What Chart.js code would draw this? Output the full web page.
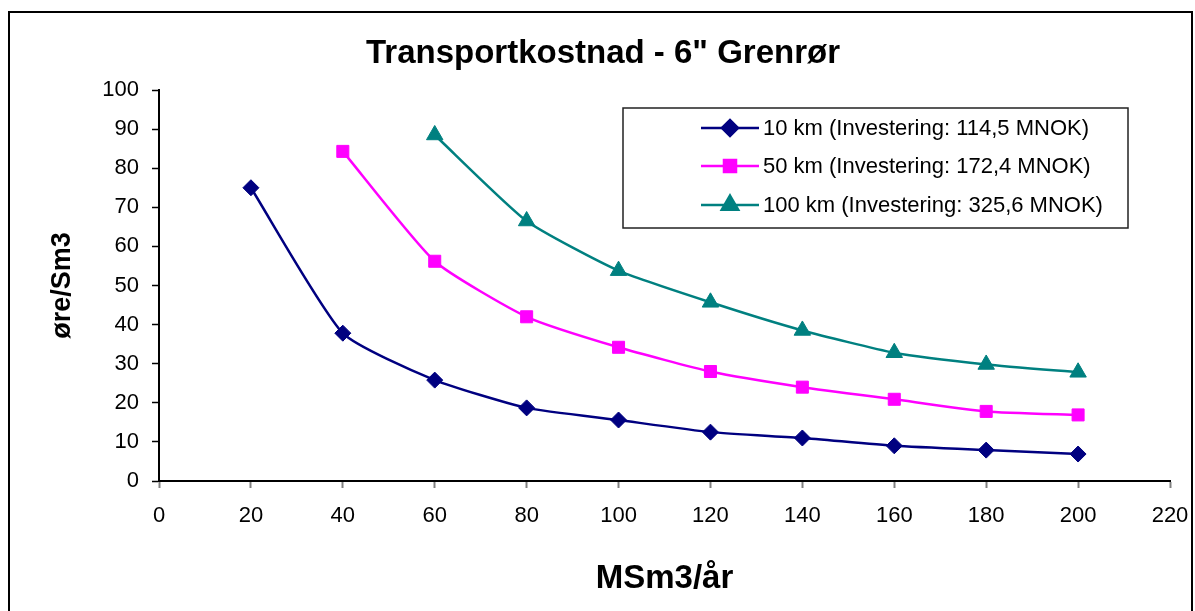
<!DOCTYPE html>
<html>
<head>
<meta charset="utf-8">
<script src="https://cdn.jsdelivr.net/npm/chart.js@4.4.1/dist/chart.umd.min.js"></script>
<style>
html,body{margin:0;padding:0;background:#fff;}
#wrap{width:1195px;height:611px;position:relative;}
</style>
</head>
<body>
<div id="wrap"><canvas id="c" width="1195" height="611"></canvas></div>
<script>
const chartTitle = 'Transportkostnad - 6" Grenrør';
const xTitle = 'MSm3/år';
const yTitle = 'øre/Sm3';
const seriesNames = ['10 km (Investering: 114,5 MNOK)', '50 km (Investering: 172,4 MNOK)', '100 km (Investering: 325,6 MNOK)'];
const x10 = [20, 40, 60, 80, 100, 120, 140, 160, 180, 200];
const y10 = [75, 37.8, 25.8, 18.7, 15.6, 12.5, 11, 9, 7.9, 6.9];
const x50 = [40, 60, 80, 100, 120, 140, 160, 180, 200];
const y50 = [84.3, 56.2, 42, 34.2, 28, 24, 20.9, 17.8, 16.9];
const x100 = [60, 80, 100, 120, 140, 160, 180, 200];
const y100 = [88.5, 66.5, 53.8, 45.7, 38.5, 32.8, 29.8, 27.8];
const xMin = 0, xMax = 220, xStep = 20;
const yMin = 0, yMax = 100, yStep = 10;

const FONT = "'Liberation Sans', Arial, sans-serif";
const colors = ['#000080', '#FF00FF', '#008080'];
const styles = ['rectRot', 'rect', 'triangle'];
const radii = [8, 8.5, 9.5];

function pts(xs, ys) { return xs.map((x, i) => ({x: x, y: ys[i]})); }

const datasets = [pts(x10, y10), pts(x50, y50), pts(x100, y100)].map((d, i) => ({
  label: seriesNames[i],
  data: d,
  showLine: true,
  borderColor: colors[i],
  backgroundColor: colors[i],
  borderWidth: 2.5,
  tension: 0.18,
  pointStyle: styles[i],
  pointRadius: radii[i],
  pointHoverRadius: radii[i],
  pointBorderWidth: 1,
  pointBorderColor: colors[i],
  pointBackgroundColor: colors[i]
}));

const framePlugin = {
  id: 'frame',
  beforeDraw(chart) {
    const ctx = chart.ctx;
    ctx.save();
    ctx.fillStyle = '#fff';
    ctx.fillRect(0, 0, chart.width, chart.height);
    ctx.strokeStyle = '#000';
    ctx.lineWidth = 2;
    ctx.strokeRect(9, 12, 1183, 700);
    ctx.restore();
  }
};

const legendBox = {left: 623, top: 108, right: 1128, bottom: 228};
const boxLegendPlugin = {
  id: 'boxLegend',
  afterDraw(chart) {
    const ctx = chart.ctx;
    const b = legendBox;
    ctx.save();
    ctx.fillStyle = '#fff';
    ctx.fillRect(b.left, b.top, b.right - b.left, b.bottom - b.top);
    ctx.strokeStyle = '#222';
    ctx.lineWidth = 1.5;
    ctx.strokeRect(b.left, b.top, b.right - b.left, b.bottom - b.top);
    const rowY = [128, 166, 205];
    chart.data.datasets.forEach((ds, i) => {
      const y = rowY[i];
      ctx.strokeStyle = ds.borderColor;
      ctx.lineWidth = 2.5;
      ctx.beginPath();
      ctx.moveTo(701, y);
      ctx.lineTo(759, y);
      ctx.stroke();
      ctx.fillStyle = ds.backgroundColor;
      Chart.helpers.drawPoint(ctx, {pointStyle: ds.pointStyle, radius: ds.pointRadius, rotation: 0, borderWidth: 1}, 730, y);
      ctx.fill();
      ctx.fillStyle = '#000';
      ctx.font = '22px ' + FONT;
      ctx.textBaseline = 'middle';
      ctx.textAlign = 'left';
      ctx.fillText(ds.label, 763, y + 1);
    });
    ctx.restore();
  }
};

new Chart(document.getElementById('c'), {
  type: 'scatter',
  data: {datasets: datasets},
  plugins: [framePlugin, boxLegendPlugin],
  options: {
    responsive: false,
    animation: false,
    devicePixelRatio: 1,
    layout: {padding: {left: 11, right: 0, top: 0, bottom: 0}},
    plugins: {
      legend: {display: false},
      tooltip: {enabled: false},
      title: {
        display: true,
        text: chartTitle,
        color: '#000',
        font: {family: FONT, size: 33, weight: 'bold'},
        padding: {top: 34, bottom: 16.4}
      }
    },
    scales: {
      x: {
        type: 'linear',
        min: xMin, max: xMax,
        ticks: {stepSize: xStep, color: '#000', font: {family: FONT, size: 22}, padding: 15, maxRotation: 0},
        grid: {display: true, drawOnChartArea: false, drawTicks: true, tickLength: 7, color: '#808080', tickWidth: 2},
        border: {display: true, color: '#000', width: 2},
        title: {display: true, text: xTitle, color: '#000', font: {family: FONT, size: 33, weight: 'bold'}, padding: {top: 0, bottom: 12}},
        afterFit(s) { s.height = 130; s.paddingRight = 25; s.paddingLeft = 0; }
      },
      y: {
        type: 'linear',
        min: yMin, max: yMax,
        ticks: {stepSize: yStep, color: '#000', font: {family: FONT, size: 22}, padding: 13},
        grid: {display: true, drawOnChartArea: false, drawTicks: true, tickLength: 7, color: '#000', tickWidth: 1.5},
        border: {display: true, color: '#000', width: 2},
        title: {display: true, text: yTitle, color: '#000', font: {family: FONT, size: 27, weight: 'bold'}, padding: {top: 35, bottom: 0}},
        afterFit(s) { s.width = 148; }
      }
    }
  }
});
</script>
</body>
</html>
